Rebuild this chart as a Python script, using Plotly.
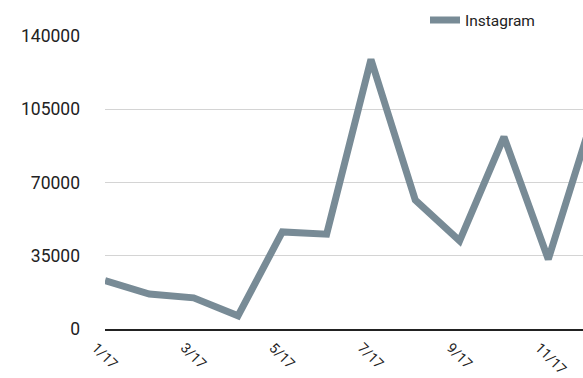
import plotly.graph_objects as go

months = ["1/17", "2/17", "3/17", "4/17", "5/17", "6/17", "7/17", "8/17", "9/17", "10/17", "11/17", "12/17"]
instagram = [23100, 16700, 14900, 6300, 46400, 45300, 128800, 61600, 42100, 91800, 33300, 101000]
tick_labels = ["1/17", "3/17", "5/17", "7/17", "9/17", "11/17"]
y_ticks = [0, 35000, 70000, 105000, 140000]

FONT = "Roboto"
LINE_COLOR = "#788B96"

fig = go.Figure()
fig.add_trace(go.Scatter(
    x=months, y=instagram, mode="lines", name="Instagram",
    line=dict(color=LINE_COLOR, width=7, shape="linear"),
))

fig.update_layout(
    width=583, height=378,
    margin=dict(l=105, r=0, t=36, b=49),
    paper_bgcolor="white", plot_bgcolor="white",
    font=dict(family=FONT, color="#222", size=16),
    showlegend=True,
    legend=dict(
        x=(425 - 105) / 478, xanchor="left", y=0.995, yanchor="bottom",
        orientation="h", font=dict(size=15.5, family=FONT, color="#222"),
        bgcolor="rgba(0,0,0,0)", itemwidth=30,
    ),
    xaxis=dict(
        type="category", categoryorder="array", categoryarray=months,
        range=[0, (583 - 105.3) / 44.3],
        tickmode="array", tickvals=tick_labels, ticktext=tick_labels,
        tickangle=45, showgrid=False, showline=True, linecolor="#222", linewidth=2,
        ticks="", tickfont=dict(size=14, family=FONT, color="#222"),
        ticklabelshift=-9, ticklabelstandoff=3,
        zeroline=False, automargin=False,
    ),
    yaxis=dict(
        range=[0, 140000], tickmode="array", tickvals=y_ticks,
        ticktext=[str(v) for v in y_ticks],
        showgrid=True, gridcolor="#d4d4d4", gridwidth=1,
        zeroline=False, showline=False, ticks="",
        tickfont=dict(size=17.5, family=FONT, color="#222"),
        ticklabelstandoff=24, automargin=False,
    ),
)

fig.write_html("out.html")
